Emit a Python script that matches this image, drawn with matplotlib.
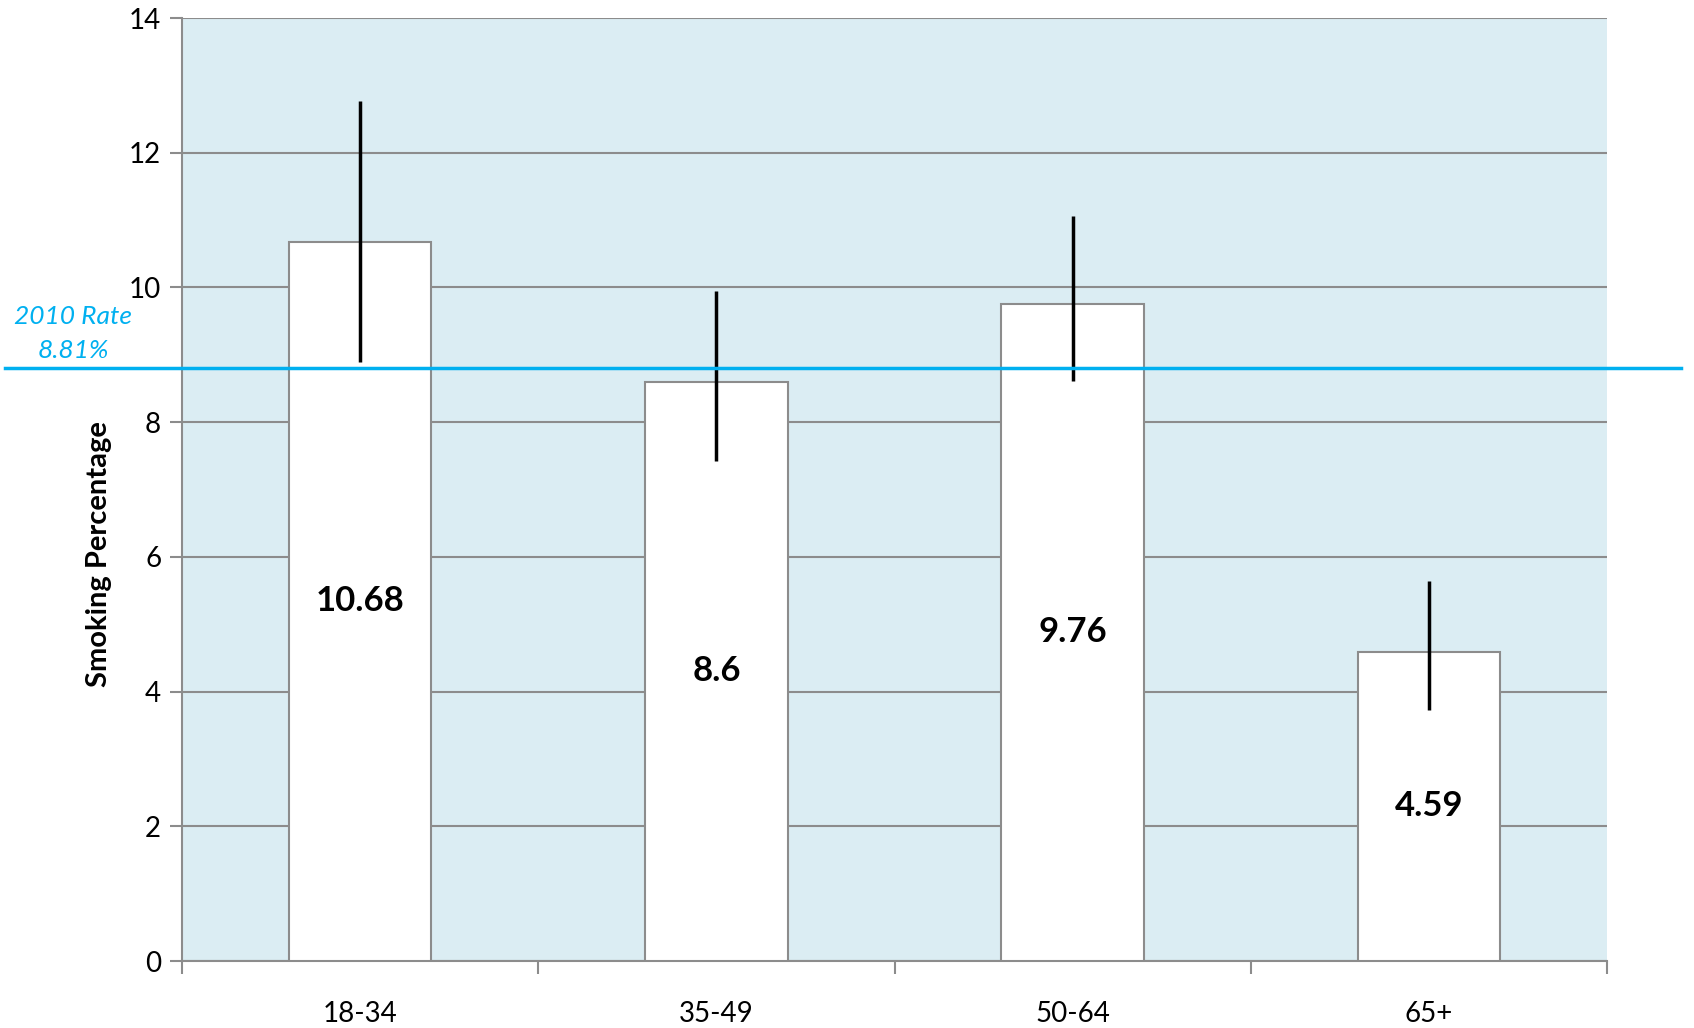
import numpy as np
import matplotlib
matplotlib.use("Agg")
from matplotlib import pyplot as plt

# data
age_groups = ["18-34", "35-49", "50-64", "65+"]
smoking_pct = [10.68, 8.6, 9.76, 4.59]
ci_low = [8.89, 7.42, 8.61, 3.72]
ci_high = [12.77, 9.95, 11.06, 5.64]
rate_2010 = 8.81

plt.rcParams['font.family'] = ['Lato', 'DejaVu Sans']

fig = plt.figure(figsize=(16.94, 10.28), dpi=100)
ax = fig.add_axes([182/1694, 1 - 961/1028, (1607-182)/1694, (961-18)/1028])

x = np.arange(len(age_groups))
ax.set_facecolor('#DBEDF3')
ax.bar(x, smoking_pct, width=0.4, color='white', edgecolor='#8C8C8C', linewidth=1.5, zorder=3)

# error bars (no caps)
vals = np.array(smoking_pct)
err = [vals - np.array(ci_low), np.array(ci_high) - vals]
ax.errorbar(x, vals, yerr=err, fmt='none', ecolor='black', elinewidth=2.5, capsize=0, zorder=4)

for xi, v in zip(x, smoking_pct):
    ax.text(xi, v / 2, f"{v:g}", ha='center', va='center', fontsize=25, fontweight='bold', zorder=5)

# 2010 reference line, runs past the axes on both sides
ax.axhline(rate_2010, xmin=-0.124, xmax=1.052, color='#00B0F0', linewidth=2.5, clip_on=False, zorder=6)
ax.text(-0.805, rate_2010 + 0.08, "2010 Rate\n8.81%", color='#00B0F0', style='italic',
        fontsize=19, ha='center', va='bottom', linespacing=1.6)

ax.set_xlim(-0.5, 3.5)
ax.set_ylim(0, 14)
ax.set_yticks(np.arange(0, 15, 2))
ax.set_xticks(x)
ax.set_xticklabels(age_groups, fontsize=20)
ax.set_xticks(np.arange(-0.5, 4, 1), minor=True)
ax.tick_params(axis='x', which='major', length=0, pad=29)
ax.tick_params(axis='x', which='minor', length=9, color='#8C8C8C', width=1.5, direction='out')
ax.tick_params(axis='y', length=9, color='#8C8C8C', width=1.5, labelsize=20, pad=6)

ax.grid(axis='y', color='#8C8C8C', linewidth=1.5, zorder=1)
ax.set_axisbelow(True)
for s in ['top', 'right']:
    ax.spines[s].set_visible(False)
for s in ['left', 'bottom']:
    ax.spines[s].set_color('#8C8C8C')
    ax.spines[s].set_linewidth(1.5)

ax.set_ylabel("Smoking Percentage", fontsize=21, fontweight='bold')
ax.yaxis.set_label_coords(-0.049, 0.432)

fig.savefig("out.png", dpi=100)
